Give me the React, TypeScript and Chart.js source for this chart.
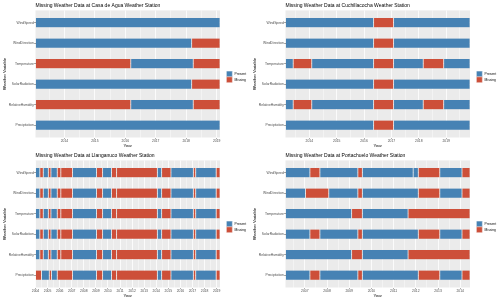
import React, { useEffect, useRef } from "react";
import { Chart, registerables } from "chart.js";

Chart.register(...registerables);

// ---------- data ----------
const variables = [
  "WindSpeed",
  "WindDirection",
  "Temperature",
  "SolarRadiation",
  "RelativeHumidity",
  "Precipitation",
];
const statusLabels = ["Present", "Missing"];
const statusColors = ["#4682B4", "#CD4F39"];

type Seg = [number, number, string];

// Casa de Agua
const casaTitle = "Missing Weather Data at Casa de Agua Weather Station";
const casaRange = [2013.05, 2019.11];
const casaFullRow: Seg[] = [[2013.05, 2019.11, "Present"]];
const casaWindRow: Seg[] = [
  [2013.05, 2018.18, "Present"],
  [2018.18, 2019.11, "Missing"],
];
const casaTempRow: Seg[] = [
  [2013.05, 2016.18, "Missing"],
  [2016.18, 2018.23, "Present"],
  [2018.23, 2019.11, "Missing"],
];
const casaRows = [casaFullRow, casaWindRow, casaTempRow, casaWindRow, casaTempRow, casaFullRow];

// Cuchillacocha
const cuchTitle = "Missing Weather Data at Cuchillacocha Weather Station";
const cuchRange = [2013.13, 2019.87];
const cuchBaseRow: Seg[] = [
  [2013.13, 2016.35, "Present"],
  [2016.35, 2017.08, "Missing"],
  [2017.08, 2019.87, "Present"],
];
const cuchTempRow: Seg[] = [
  [2013.13, 2013.41, "Present"],
  [2013.41, 2014.09, "Missing"],
  [2014.09, 2016.35, "Present"],
  [2016.35, 2017.08, "Missing"],
  [2017.08, 2018.16, "Present"],
  [2018.16, 2018.91, "Missing"],
  [2018.91, 2019.87, "Present"],
];
const cuchRows = [cuchBaseRow, cuchBaseRow, cuchTempRow, cuchBaseRow, cuchTempRow, cuchBaseRow];

// Llanganuco
const llanTitle = "Missing Weather Data at Llanganuco Weather Station";
const llanRange = [2004.0, 2019.28];
const llanSensorRow: Seg[] = [
  [2004.0, 2004.36, "Present"],
  [2004.36, 2004.64, "Missing"],
  [2004.64, 2005.06, "Present"],
  [2005.06, 2005.28, "Missing"],
  [2005.28, 2005.8, "Present"],
  [2005.8, 2006.1, "Missing"],
  [2006.1, 2007.07, "Missing"],
  [2007.07, 2009.06, "Present"],
  [2009.06, 2009.56, "Missing"],
  [2009.56, 2010.3, "Present"],
  [2010.3, 2010.72, "Missing"],
  [2010.72, 2014.09, "Missing"],
  [2014.09, 2014.45, "Present"],
  [2014.45, 2015.22, "Missing"],
  [2015.22, 2017.07, "Present"],
  [2017.07, 2017.27, "Missing"],
  [2017.27, 2018.96, "Present"],
  [2018.96, 2019.28, "Missing"],
];
const llanPrecipRow: Seg[] = [
  [2004.0, 2004.5, "Missing"],
  [2004.5, 2005.14, "Present"],
  [2005.14, 2005.33, "Missing"],
  [2005.33, 2005.8, "Present"],
  [2005.8, 2007.07, "Missing"],
  [2007.07, 2009.06, "Present"],
  [2009.06, 2009.56, "Missing"],
  [2009.56, 2010.3, "Present"],
  [2010.3, 2010.72, "Missing"],
  [2010.72, 2014.09, "Missing"],
  [2014.09, 2014.45, "Present"],
  [2014.45, 2015.22, "Missing"],
  [2015.22, 2017.07, "Present"],
  [2017.07, 2017.27, "Missing"],
  [2017.27, 2018.96, "Present"],
  [2018.96, 2019.28, "Missing"],
];
const llanRows = [llanSensorRow, llanSensorRow, llanSensorRow, llanSensorRow, llanSensorRow, llanPrecipRow];

// Portachuelo
const portTitle = "Missing Weather Data at Portachuelo Weather Station";
const portRange = [2006.13, 2014.44];
const portSpeedRow: Seg[] = [
  [2006.13, 2007.23, "Present"],
  [2007.23, 2007.68, "Missing"],
  [2007.68, 2009.39, "Present"],
  [2009.39, 2009.59, "Missing"],
  [2009.59, 2011.88, "Present"],
  [2011.88, 2012.11, "Present"],
  [2012.11, 2013.08, "Missing"],
  [2013.08, 2014.08, "Present"],
  [2014.08, 2014.44, "Missing"],
];
const portDirRow: Seg[] = [
  [2006.13, 2007.03, "Present"],
  [2007.03, 2008.08, "Missing"],
  [2008.08, 2009.39, "Present"],
  [2009.39, 2009.59, "Missing"],
  [2009.59, 2012.11, "Present"],
  [2012.11, 2013.08, "Missing"],
  [2013.08, 2014.08, "Present"],
  [2014.08, 2014.44, "Missing"],
];
const portTempRow: Seg[] = [
  [2006.13, 2009.11, "Present"],
  [2009.11, 2009.59, "Missing"],
  [2009.59, 2011.65, "Present"],
  [2011.65, 2014.44, "Missing"],
];
const portOtherRow: Seg[] = [
  [2006.13, 2007.23, "Present"],
  [2007.23, 2007.68, "Missing"],
  [2007.68, 2009.39, "Present"],
  [2009.39, 2009.59, "Missing"],
  [2009.59, 2012.11, "Present"],
  [2012.11, 2013.08, "Missing"],
  [2013.08, 2014.08, "Present"],
  [2014.08, 2014.44, "Missing"],
];
const portRows = [portSpeedRow, portDirRow, portTempRow, portOtherRow, portTempRow, portOtherRow];

// ---------- styling ----------
const FONT = "'Liberation Sans', Arial, Helvetica, sans-serif";
const W = 250;
const H = 150;

const panelBg = {
  id: "panelBg",
  beforeDraw(chart: any) {
    const { ctx, chartArea } = chart;
    ctx.save();
    ctx.fillStyle = "#EBEBEB";
    ctx.fillRect(chartArea.left, chartArea.top, chartArea.right - chartArea.left, chartArea.bottom - chartArea.top);
    ctx.restore();
  },
};

const ggLegend = {
  id: "ggLegend",
  afterDraw(chart: any) {
    const { ctx } = chart;
    ctx.save();
    statusLabels.forEach((label, i) => {
      const y = 71 + i * 5.8;
      ctx.fillStyle = statusColors[i];
      ctx.fillRect(226.5, y, 5.8, 5.8);
      ctx.strokeStyle = "rgba(240,240,240,0.8)";
      ctx.lineWidth = 0.4;
      ctx.strokeRect(226.7, y + 0.2, 5.4, 5.4);
      ctx.fillStyle = "#000000";
      ctx.font = `3.35px ${FONT}`;
      ctx.textBaseline = "middle";
      ctx.textAlign = "left";
      ctx.fillText(label, 234.6, y + 2.9);
    });
    ctx.restore();
  },
};

function buildDatasets(rows: Seg[][]) {
  return statusLabels.map((status, si) => {
    const data: any[] = [];
    rows.forEach((row, vi) => {
      row.forEach(([a, b, s]) => {
        if (s === status) data.push({ x: [a, b], y: vi });
      });
    });
    return {
      label: status,
      data,
      backgroundColor: statusColors[si],
      borderColor: "rgba(225,225,225,0.45)",
      borderWidth: 0.4,
      borderSkipped: false,
      grouped: false,
      categoryPercentage: 1,
      barPercentage: 0.49,
    };
  });
}

function Panel({ title, range, rows, left, top }: { title: string; range: number[]; rows: Seg[][]; left: number; top: number }) {
  const ref = useRef<HTMLCanvasElement | null>(null);
  useEffect(() => {
    if (!ref.current) return;
    const [xmin, xmax] = range;
    const chart = new Chart(ref.current, {
      type: "bar",
      data: { datasets: buildDatasets(rows) as any },
      options: {
        indexAxis: "y",
        responsive: false,
        animation: false,
        devicePixelRatio: 1,
        layout: { padding: { left: 0, right: 30, top: 0, bottom: 0 } },
        scales: {
          x: {
            type: "linear",
            position: "bottom",
            min: xmin,
            max: xmax,
            bounds: "data",
            offset: false,
            afterBuildTicks: (scale: any) => {
              const t: any[] = [];
              for (let v = Math.ceil(xmin * 2) / 2; v <= xmax; v += 0.5) t.push({ value: v });
              scale.ticks = t;
            },
            afterFit: (scale: any) => {
              scale.height = 12.5;
            },
            border: { display: false },
            grid: {
              offset: false,
              color: "#FFFFFF",
              lineWidth: (c: any) => (c.tick && Number.isInteger(c.tick.value) ? 0.8 : 0.4),
              tickColor: (c: any) => (c.tick && Number.isInteger(c.tick.value) ? "#333333" : "rgba(0,0,0,0)"),
              tickLength: 1.3,
              tickWidth: 0.5,
              drawTicks: true,
            },
            ticks: {
              autoSkip: false,
              maxRotation: 0,
              padding: 0.4,
              color: "#4D4D4D",
              font: { family: FONT, size: 3.35 },
              callback: (v: any) => (Number.isInteger(v) ? String(v) : ""),
            },
            title: {
              display: true,
              text: "Year",
              color: "#000000",
              font: { family: FONT, size: 4.2 },
              padding: { top: 0, bottom: 1.8 },
            },
          },
          y: {
            type: "linear",
            min: -0.6,
            max: 5.6,
            reverse: true,
            bounds: "data",
            offset: false,
            afterBuildTicks: (scale: any) => {
              scale.ticks = variables.map((_, i) => ({ value: i }));
            },
            afterFit: (scale: any) => {
              scale.width = 35.5;
            },
            border: { display: false },
            grid: {
              offset: false,
              color: "#FFFFFF",
              lineWidth: 0.8,
              tickColor: "#333333",
              tickLength: 1.3,
              tickWidth: 0.5,
            },
            ticks: {
              autoSkip: false,
              padding: 0.4,
              color: "#4D4D4D",
              font: { family: FONT, size: 3.35 },
              callback: (v: any) => variables[v as number] ?? "",
            },
            title: {
              display: true,
              text: "Weather Variable",
              color: "#000000",
              font: { family: FONT, size: 4.2 },
              padding: { top: 2.8, bottom: 0 },
            },
          },
        },
        plugins: {
          legend: { display: false },
          tooltip: { enabled: false },
          title: {
            display: true,
            text: title,
            align: "start",
            fullSize: false,
            color: "#000000",
            font: { family: FONT, size: 5, weight: "normal" as any, lineHeight: 1.2 },
            padding: { top: 3, bottom: 1.4 },
          },
        },
      } as any,
      plugins: [panelBg, ggLegend],
    });
    return () => chart.destroy();
  }, [title, range, rows]);
  return (
    <canvas
      ref={ref}
      width={W}
      height={H}
      style={{ position: "absolute", left, top, width: W, height: H }}
    />
  );
}

export default function App() {
  return (
    <div style={{ position: "absolute", left: 0, top: 0, width: 500, height: 301, background: "#FFFFFF", overflow: "hidden" }}>
      <Panel title={casaTitle} range={casaRange} rows={casaRows} left={0} top={0} />
      <Panel title={cuchTitle} range={cuchRange} rows={cuchRows} left={250} top={0} />
      <Panel title={llanTitle} range={llanRange} rows={llanRows} left={0} top={150} />
      <Panel title={portTitle} range={portRange} rows={portRows} left={250} top={150} />
    </div>
  );
}
